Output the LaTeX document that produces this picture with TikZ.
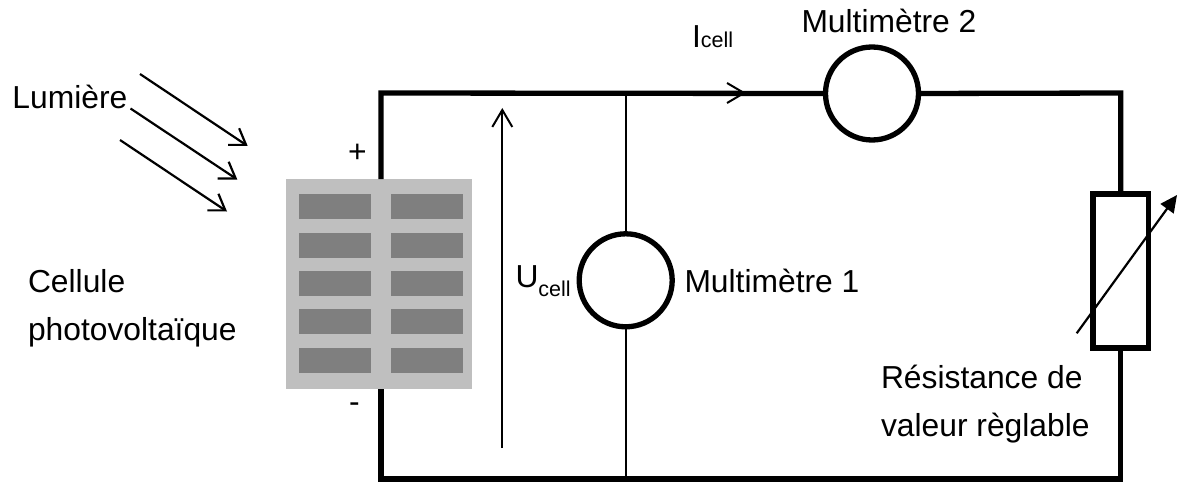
\documentclass[tikz,border=0pt]{standalone}
\usepackage{fontspec}
\setmainfont{Liberation Sans}
\usetikzlibrary{arrows.meta}
\definecolor{panelgrey}{HTML}{BFBFBF}
\definecolor{cellgrey}{HTML}{7F7F7F}
\newcommand{\subcell}{\fontsize{21.5}{21.5}\selectfont cell}
\tikzset{
  wire/.style={line width=5.3pt,line join=miter},
  thinwire/.style={line width=2.2pt},
  meter/.style={circle,draw,line width=5.3pt,minimum size=93pt,inner sep=0pt,outer sep=0pt},
  panel/.style={fill=panelgrey,draw=none,minimum width=186pt,minimum height=210pt,inner sep=0pt,outer sep=0pt},
  pv/.style={fill=cellgrey,draw=none,minimum width=72pt,minimum height=25pt,inner sep=0pt,outer sep=0pt},
  res/.style={draw,line width=5.3pt,minimum width=55.5pt,minimum height=154pt,inner sep=0pt,outer sep=0pt},
  ray/.style={line width=2.2pt,-{Straight Barb[length=15pt,width=20pt,line width=2.2pt]}},
  openarrow/.style={line width=2.2pt,-{Straight Barb[length=17pt,width=20pt,line width=2pt]}},
  label/.style={anchor=base west,inner sep=0pt,outer sep=0pt,font=\fontsize{31.8}{48}\selectfont},
}
\begin{document}
\begin{tikzpicture}[x=1pt,y=-1pt]
\useasboundingbox (0,0) rectangle (1178,484);
% photovoltaic panel
\node[panel] (pan) at (379,284) {};
\foreach \n/\yy in {1/206.2,2/245.8,3/283.4,4/321.6,5/360.2}{
  \node[pv] (a\n) at (335.2,\yy) {};
  \node[pv] (b\n) at (427.2,\yy) {};
}
% components
\node[meter] (m1) at (625.7,280.3) {};
\node[meter] (m2) at (872,93.5) {};
\node[res] (r) at (1120.7,271) {};
% anchor coordinates
\coordinate (pt) at (381,179);
\coordinate (pb) at (381,389);
\coordinate (tl) at (381,93);
\coordinate (tr) at (1120.7,93);
\coordinate (bl) at (381,479);
\coordinate (br) at (1120.7,479);
\coordinate (tj) at (625.7,93);
\coordinate (bj) at (625.7,479);
% wires
\draw[wire] (pt) -- (tl) -- (m2.west);
\draw[wire] (m2.east) -- (tr) -- (r.north);
\draw[wire] (r.south) -- (br) -- (bl) -- (pb);
\draw[thinwire] (tj) -- (m1.north);
\draw[thinwire] (m1.south) -- (bj);
% current arrow
\coordinate (it) at (746,93);
\coordinate (is) at (700,93);
\draw[openarrow] (is) -- (it);
% voltage arrow
\coordinate (us) at (502.3,448);
\coordinate (ut) at (502.3,108);
\draw[openarrow] (us) -- (ut);
% adjustable arrow
\coordinate (vs) at (1076.7,333.3);
\coordinate (vt) at (1177,195);
\draw[line width=2.2pt,-{Triangle[length=17pt,width=16pt]}] (vs) -- (vt);
% light rays
\coordinate (l1s) at (140,74);
\coordinate (l1t) at (247.7,146);
\coordinate (l2s) at (130.5,108.5);
\coordinate (l2t) at (237.3,179.5);
\coordinate (l3s) at (120,140);
\coordinate (l3t) at (227,211.5);
\draw[ray] (l1s) -- (l1t);
\draw[ray] (l2s) -- (l2t);
\draw[ray] (l3s) -- (l3t);
% labels
\node[label] (tlum) at (12.5,109) {Lumière};
\node[label,align=left] (tcell) at (28,340) {Cellule\\photovoltaïque};
\node[label] (tplus) at (348,162.5) {+};
\node[label] (tminus) at (349,412) {-};
\node[label] (tu) at (515.5,287) {U\raisebox{-9pt}{\subcell}};
\node[label] (ti) at (692,48) {I\subcell};
\node[label] (tm1) at (684.5,292) {Multimètre 1};
\node[label] (tm2) at (801.5,32.5) {Multimètre 2};
\node[label,align=left] (tres) at (881,436) {Résistance de\\valeur règlable};
\end{tikzpicture}
\end{document}
